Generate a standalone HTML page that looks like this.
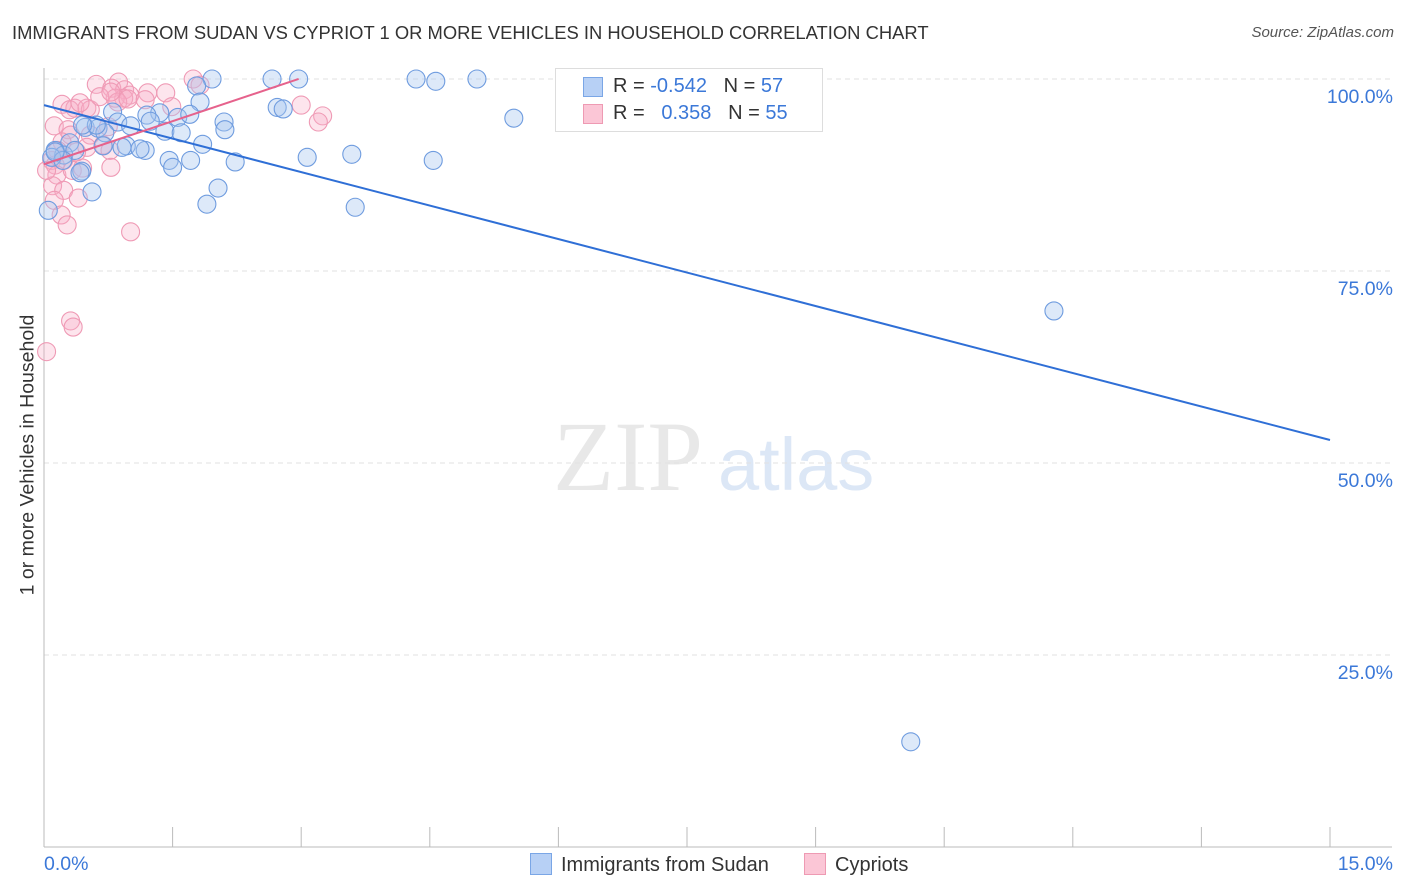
<!DOCTYPE html>
<html><head><meta charset="utf-8"><style>
body{margin:0;background:#fff;font-family:"Liberation Sans",sans-serif;}
#wrap{position:relative;width:1406px;height:892px;overflow:hidden;}
.t{position:absolute;white-space:nowrap;}
</style></head><body>
<div id="wrap">
<div class="t" style="left:12px;top:22px;font-size:18.4px;color:#333;">IMMIGRANTS FROM SUDAN VS CYPRIOT 1 OR MORE VEHICLES IN HOUSEHOLD CORRELATION CHART</div>
<div class="t" style="right:12px;top:24px;font-size:15px;color:#555;font-style:italic;">Source: ZipAtlas.com</div>
<div class="t" style="left:28px;top:455px;font-size:19.5px;color:#333;transform:translate(-50%,-50%) rotate(-90deg);">1 or more Vehicles in Household</div>
<svg id="plot" width="1406" height="892" style="position:absolute;left:0;top:0"></svg>
</div>
<script>
const blueX=[1.96,2.66,2.97,4.34,4.57,5.05,5.48,1.78,1.82,2.72,2.79,1.35,1.20,1.56,0.80,0.86,1.01,2.10,2.11,0.48,0.63,0.71,1.41,1.60,1.24,1.85,0.30,0.69,0.96,1.18,1.12,0.13,0.23,0.36,0.09,1.46,1.71,3.07,3.59,4.54,1.50,0.44,0.42,2.23,0.56,2.03,1.90,3.63,0.05,11.78,10.11,0.61,0.22,0.13,0.45,0.91,1.70];
const blueY=[100,100,100,100,99.7,100,94.9,99.1,97.0,96.3,96.1,95.6,95.3,95.0,95.7,94.4,93.9,94.4,93.4,93.7,93.6,93.0,93.2,93.0,94.5,91.5,91.7,91.3,91.3,90.7,90.9,90.7,90.1,90.7,89.8,89.4,89.4,89.8,90.2,89.4,88.5,88.0,87.8,89.2,85.3,85.8,83.7,83.3,82.9,69.8,13.7,94.0,89.4,90.5,94.0,91.1,95.4];
const pinkX=[0.61,0.87,0.79,0.94,1.00,0.93,0.83,1.74,1.42,1.21,0.21,0.36,0.50,0.54,0.30,0.42,1.49,3.00,3.25,3.20,0.12,0.28,0.31,0.54,0.69,0.77,0.75,0.21,0.16,0.23,0.09,0.13,0.15,0.33,0.45,0.78,0.10,0.23,0.40,0.12,0.20,0.27,1.01,0.31,0.34,0.03,0.86,0.98,0.65,0.50,0.38,0.03,0.78,1.82,1.18];
const pinkY=[99.3,99.6,98.8,98.6,97.9,97.5,97.5,100,98.2,98.2,96.7,96.2,96.2,96.0,96.0,96.9,96.4,96.6,95.2,94.4,93.9,93.4,92.7,92.7,91.4,90.7,93.8,91.8,90.7,89.4,89.4,88.8,87.5,88.1,88.4,88.5,86.1,85.5,84.5,84.2,82.3,81.0,80.1,68.5,67.7,64.5,97.0,97.4,97.7,91.1,90.5,88.1,98.3,99.2,97.3];
const blueFit=[96.6,-2.907]; // intercept, slope
const pinkFit=[88.9,3.74];
const pinkFitRange=[0,2.97];
const yTicks=[25,50,75,100];
const xTickCount=10;

const NS='http://www.w3.org/2000/svg';
const svg=document.getElementById('plot');
const X0=44,X1=1330,Y0=847,Y100=79;
const sx=v=>X0+(v/15)*(X1-X0);
const sy=v=>Y0-(v/100)*(Y0-Y100);
function mk(tag,attrs){const e=document.createElementNS(NS,tag);for(const k in attrs)e.setAttribute(k,attrs[k]);svg.appendChild(e);return e;}

let wm=mk('text',{x:553,y:490,'font-size':100,fill:'#e8e8e8','font-family':'Liberation Serif,serif'});wm.textContent='ZIP';


let wm2=mk('text',{x:718,y:490,'font-size':74,fill:'#dce7f6','font-family':'Liberation Sans,sans-serif'});wm2.textContent='atlas';



yTicks.forEach(t=>{
  const g=mk('line',{x1:X0,x2:1392,y1:sy(t),y2:sy(t),stroke:'#e2e2e2','stroke-dasharray':'5,4'});
  
  
  const l=mk('text',{x:1393,y:sy(t)+24,'text-anchor':'end','font-size':19.5,fill:'#3b78d8'});
  l.textContent=t.toFixed(1)+'%';
  
  
});
let ax=mk('line',{x1:X0,x2:X0,y1:68,y2:Y0,stroke:'#bbb'});


let bx=mk('line',{x1:X0,x2:1392,y1:Y0,y2:Y0,stroke:'#bbb'});


for(let i=1;i<=xTickCount;i++){
  const v=15*i/xTickCount;
  const tk=mk('line',{x1:sx(v),x2:sx(v),y1:827,y2:Y0,stroke:'#bbb'});
  
  
}
let xl0=mk('text',{x:44,y:870,'font-size':19.5,fill:'#3b78d8'});xl0.textContent='0.0%';


let xl1=mk('text',{x:1393,y:870,'text-anchor':'end','font-size':19.5,fill:'#3b78d8'});xl1.textContent='15.0%';



function pts(xs,ys,fill,stroke,name){
  xs.forEach((x,i)=>{
    const c=mk('circle',{cx:sx(x),cy:sy(ys[i]),r:9,fill:fill,stroke:stroke,'stroke-width':1.1});
    
    
  });
}
pts(pinkX,pinkY,'rgba(248,175,198,0.32)','#ef9ab5','cypriots-point');
pts(blueX,blueY,'rgba(165,198,240,0.38)','#6f9cdf','sudan-point');
let bl=mk('line',{x1:sx(0),y1:sy(blueFit[0]),x2:sx(15),y2:sy(blueFit[0]+blueFit[1]*15),stroke:'#2f6fd6','stroke-width':2});


let pl=mk('line',{x1:sx(pinkFitRange[0]),y1:sy(pinkFit[0]+pinkFit[1]*pinkFitRange[0]),x2:sx(pinkFitRange[1]),y2:sy(pinkFit[0]+pinkFit[1]*pinkFitRange[1]),stroke:'#e6628c','stroke-width':2});


</script>
<div class="t" style="left:555px;top:68px;width:266px;height:62px;border:1px solid #ddd;background:#fff;font-size:20px;">
  <div style="position:absolute;left:27px;top:8px;width:18px;height:18px;background:#b7d0f5;border:1px solid #7aa6e6"></div>
  <div class="t" style="left:57px;top:6px;color:#333">R = <span style="color:#3b78d8">-0.542</span>&nbsp;&nbsp;&nbsp;N = <span style="color:#3b78d8">57</span></div>
  <div style="position:absolute;left:27px;top:35px;width:18px;height:18px;background:#fbc6d6;border:1px solid #ee9ab3"></div>
  <div class="t" style="left:57px;top:33px;color:#333">R = &nbsp;&nbsp;<span style="color:#3b78d8">0.358</span>&nbsp;&nbsp;&nbsp;N = <span style="color:#3b78d8">55</span></div>
</div>
<div class="t" style="left:530px;top:853px;font-size:20px;color:#333;">
  <span style="display:inline-block;width:20px;height:20px;background:#b7d0f5;border:1px solid #7aa6e6;vertical-align:-4px;margin-right:9px"></span>Immigrants from Sudan</div>
<div class="t" style="left:804px;top:853px;font-size:20px;color:#333;">
  <span style="display:inline-block;width:20px;height:20px;background:#fbc6d6;border:1px solid #ee9ab3;vertical-align:-4px;margin-right:9px"></span>Cypriots</div>
</body></html>
